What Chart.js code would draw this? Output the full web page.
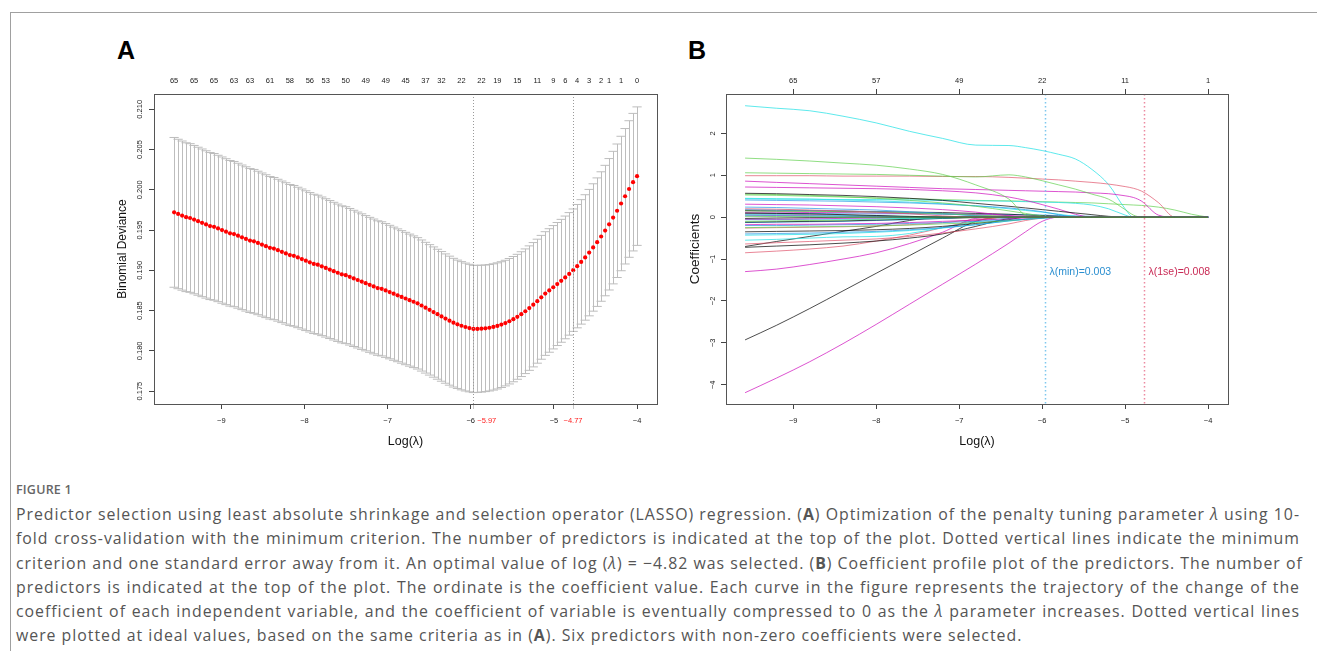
<!DOCTYPE html>
<html>
<head>
<meta charset="utf-8">
<script src="https://cdn.jsdelivr.net/npm/chart.js@4.4.1/dist/chart.umd.min.js"></script>
<style>
  body { margin: 0; background: #fff; width: 1317px; height: 651px; overflow: hidden; position: relative; font-family: "Liberation Sans", Arial, sans-serif; }
  .frame-top { position: absolute; left: 10px; top: 12px; right: 0; height: 1px; background: #a0a0a0; }
  .frame-left { position: absolute; left: 10px; top: 12px; bottom: 0; width: 1px; background: #a0a0a0; }
  .panel { position: absolute; top: 38px; font-size: 25px; line-height: 25px; font-weight: bold; color: #000; }
  .wrap { position: absolute; top: 20px; width: 575px; height: 440px; }
  .cap { position: absolute; left: 16px; width: 1284px; font-family: "Open Sans", Lato, sans-serif; color: #555; }
  .fig { top: 478px; font-size: 12.5px; line-height: 24px; font-weight: 600; letter-spacing: 0.2px; color: #666; }
  .ln { font-size: 16.5px; line-height: 24.3px; height: 24.3px; white-space: nowrap; text-align: justify; text-align-last: justify; }
  .ln.last { text-align-last: left; }
</style>
</head>
<body>
<div class="frame-top"></div>
<div class="frame-left"></div>
<div class="panel" style="left:117px">A</div>
<div class="panel" style="left:688px">B</div>
<div class="wrap" style="left:100px"><canvas id="chartA" width="575" height="440"></canvas></div>
<div class="wrap" style="left:672px"><canvas id="chartB" width="575" height="440"></canvas></div>

<div class="cap fig">FIGURE 1</div>
<div class="cap" style="top:502px">
  <div class="ln">Predictor selection using least absolute shrinkage and selection operator (LASSO) regression. (<b>A</b>) Optimization of the penalty tuning parameter <i>λ</i> using 10-</div>
  <div class="ln">fold cross-validation with the minimum criterion. The number of predictors is indicated at the top of the plot. Dotted vertical lines indicate the minimum</div>
  <div class="ln">criterion and one standard error away from it. An optimal value of log (<i>λ</i>) = −4.82 was selected. (<b>B</b>) Coefficient profile plot of the predictors. The number of</div>
  <div class="ln">predictors is indicated at the top of the plot. The ordinate is the coefficient value. Each curve in the figure represents the trajectory of the change of the</div>
  <div class="ln">coefficient of each independent variable, and the coefficient of variable is eventually compressed to 0 as the <i>λ</i> parameter increases. Dotted vertical lines</div>
  <div class="ln last">were plotted at ideal values, based on the same criteria as in (<b>A</b>). Six predictors with non-zero coefficients were selected.</div>
</div>

<script>
// ---------- panel A : 10-fold cross-validation ----------
const logLambda = [
  -9.568, -9.520, -9.472, -9.424, -9.376, -9.328, -9.280, -9.232, -9.184, -9.136,
  -9.088, -9.040, -8.992, -8.944, -8.896, -8.848, -8.800, -8.752, -8.704, -8.656,
  -8.608, -8.560, -8.512, -8.464, -8.416, -8.368, -8.320, -8.272, -8.224, -8.176,
  -8.128, -8.080, -8.032, -7.984, -7.936, -7.888, -7.840, -7.792, -7.744, -7.696,
  -7.648, -7.600, -7.552, -7.504, -7.456, -7.408, -7.360, -7.312, -7.264, -7.216,
  -7.168, -7.120, -7.072, -7.024, -6.976, -6.928, -6.880, -6.832, -6.784, -6.736,
  -6.688, -6.640, -6.592, -6.544, -6.496, -6.448, -6.400, -6.352, -6.304, -6.256,
  -6.208, -6.160, -6.112, -6.064, -6.016, -5.968, -5.920, -5.872, -5.824, -5.776,
  -5.728, -5.680, -5.632, -5.584, -5.536, -5.488, -5.440, -5.392, -5.344, -5.296,
  -5.248, -5.200, -5.152, -5.104, -5.056, -5.008, -4.960, -4.912, -4.864, -4.816,
  -4.768, -4.720, -4.672, -4.624, -4.576, -4.528, -4.480, -4.432, -4.384, -4.336,
  -4.288, -4.240, -4.192, -4.144, -4.096, -4.048, -4.000
];
const cvm = [
  0.1972, 0.1970, 0.1968, 0.1966, 0.1965, 0.1963, 0.1961, 0.1959, 0.1957, 0.1955,
  0.1954, 0.1952, 0.1950, 0.1948, 0.1946, 0.1945, 0.1943, 0.1941, 0.1939, 0.1937,
  0.1936, 0.1934, 0.1932, 0.1930, 0.1928, 0.1927, 0.1925, 0.1923, 0.1921, 0.1919,
  0.1918, 0.1916, 0.1914, 0.1912, 0.1910, 0.1908, 0.1907, 0.1905, 0.1903, 0.1901,
  0.1899, 0.1897, 0.1895, 0.1894, 0.1892, 0.1890, 0.1888, 0.1886, 0.1884, 0.1882,
  0.1880, 0.1878, 0.1877, 0.1875, 0.1873, 0.1871, 0.1869, 0.1867, 0.1865, 0.1863,
  0.1861, 0.18590, 0.18563, 0.18536, 0.18509, 0.18482, 0.18455, 0.18428, 0.18401, 0.18375,
  0.18350, 0.18330, 0.18312, 0.18296, 0.18283, 0.18272, 0.18273, 0.18276, 0.18280, 0.18287,
  0.18297, 0.18310, 0.18326, 0.18345, 0.18368, 0.18394, 0.18423, 0.18456, 0.18492, 0.18531,
  0.18573, 0.18617, 0.18665, 0.18712, 0.18750, 0.18790, 0.18830, 0.18870, 0.18912, 0.18956,
  0.19002, 0.19052, 0.19105, 0.19160, 0.19220, 0.19284, 0.19350, 0.19420, 0.19494, 0.19572,
  0.19655, 0.19740, 0.19830, 0.19920, 0.20010, 0.20095, 0.20170
];
const cvsd = [
  .00930, .00928, .00926, .00924, .00923, .00921, .00919, .00917, .00915, .00913,
  .00911, .00909, .00908, .00906, .00904, .00902, .00900, .00898, .00896, .00894,
  .00893, .00891, .00889, .00887, .00885, .00883, .00881, .00879, .00878, .00876,
  .00874, .00872, .00870, .00868, .00866, .00865, .00863, .00861, .00859, .00857,
  .00855, .00853, .00851, .00850, .00848, .00846, .00844, .00842, .00840, .00838,
  .00837, .00835, .00833, .00831, .00829, .00827, .00825, .00823, .00822, .00820,
  .00818, .00816, .00814, .00812, .00810, .00809, .00807, .00805, .00803, .00801,
  .00799, .00797, .00796, .00794, .00792, .00790, .00789, .00788, .00786, .00785,
  .00784, .00783, .00781, .00780, .00779, .00778, .00776, .00775, .00774, .00773,
  .00772, .00770, .00769, .00768, .00767, .00766, .00764, .00763, .00762, .00761,
  .00760, .00766, .00773, .00779, .00785, .00791, .00798, .00804, .00810, .00816,
  .00823, .00829, .00835, .00841, .00848, .00854, .00860
];
// number of non-zero predictors written on the top axis, at these lambda indices
const nzeroAt  = [0, 5, 10, 15, 19, 24, 29, 34, 38, 43, 48, 53, 58, 63, 67, 72, 77, 81, 86, 91, 95, 98, 101, 104, 107, 109, 112, 116];
const nzeroLab = [65, 65, 65, 63, 63, 61, 58, 56, 53, 50, 49, 49, 45, 37, 32, 22, 22, 19, 15, 11, 9, 6, 4, 3, 2, 1, 1, 0];
const xTicks = [-9, -8, -7, -6, -5, -4];
const yTicksA = [0.175, 0.180, 0.185, 0.190, 0.195, 0.200, 0.205, 0.210];
const lamMin = -5.97, lam1se = -4.77;

// ---------- panel B : coefficient paths ----------
const xB = [-9.58, -9.2, -8.8, -8.4, -8.0, -7.6, -7.2, -6.8, -6.4, -6.2, -6.0, -5.8, -5.6, -5.4, -5.2, -5.0, -4.9, -4.8, -4.6, -4.4, -4.2, -4.0];
const coefB = [
  [0.02, 0.015, 0.01, 0],
  [-0.03, -0.02, -0.01, -0.005, 0],
  [0.20, 0.19, 0.17, 0.15, 0.12, 0.08, 0.03, 0],
  [0.10, 0.09, 0.08, 0.06, 0.04, 0.02, 0],
  [0.06, 0.06, 0.05, 0.04, 0.03, 0.01, 0],
  [0.03, 0.03, 0.02, 0.02, 0.01, 0],
  [0.08, 0.07, 0.06, 0.05, 0.03, 0.01, 0],
  [0.05, 0.04, 0.04, 0.03, 0.02, 0.01, 0],
  [-0.05, -0.05, -0.04, -0.03, -0.02, 0],
  [-0.06, -0.06, -0.05, -0.05, -0.04, -0.03, -0.02, 0],
  [-0.10, -0.09, -0.08, -0.07, -0.05, -0.03, -0.01, 0],
  [-0.12, -0.11, -0.10, -0.09, -0.07, -0.05, -0.03, -0.01, 0],
  [-0.13, -0.12, -0.11, -0.10, -0.08, -0.06, -0.03, 0],
  [0.15, 0.14, 0.14, 0.13, 0.12, 0.10, 0.08, 0.05, 0.02, 0],
  [0.18, 0.17, 0.16, 0.15, 0.13, 0.11, 0.08, 0.04, 0],
  [0.24, 0.23, 0.21, 0.19, 0.17, 0.13, 0.09, 0.03, 0],
  [0.31, 0.30, 0.29, 0.27, 0.25, 0.22, 0.18, 0.12, 0.03, 0],
  [0.12, 0.12, 0.11, 0.11, 0.10, 0.09, 0.08, 0.06, 0.04, 0.02, 0],
  [-0.18, -0.17, -0.17, -0.16, -0.15, -0.13, -0.10, -0.07, -0.04, -0.02, 0],
  [-0.20, -0.20, -0.19, -0.18, -0.17, -0.15, -0.13, -0.10, -0.07, -0.05, -0.03, 0],
  [-0.25, -0.24, -0.23, -0.22, -0.21, -0.19, -0.16, -0.13, -0.08, -0.05, -0.02, 0],
  [-0.26, -0.25, -0.24, -0.23, -0.21, -0.18, -0.13, -0.06, 0],
  [-0.35, -0.34, -0.33, -0.32, -0.30, -0.27, -0.22, -0.15, -0.06, 0],
  [-0.40, -0.39, -0.38, -0.36, -0.34, -0.30, -0.25, -0.18, -0.09, -0.05, 0],
  [-0.43, -0.42, -0.41, -0.39, -0.36, -0.32, -0.26, -0.18, -0.09, -0.05, -0.02, 0],
  [-0.55, -0.53, -0.50, -0.47, -0.46, -0.39, -0.25, -0.11, -0.02, 0],
  [-0.64, -0.61, -0.58, -0.55, -0.52, -0.46, -0.38, -0.28, -0.16, -0.08, -0.02, 0],
  [-0.70, -0.58, -0.46, -0.34, -0.22, -0.08, 0],
  [-0.72, -0.69, -0.66, -0.62, -0.57, -0.50, -0.40, -0.22, -0.03, 0],
  [-0.85, -0.81, -0.76, -0.69, -0.57, -0.43, -0.25, -0.08, 0],
  [-1.30, -1.24, -1.13, -1.00, -0.85, -0.63, -0.36, -0.03, 0],
  [-2.93, -2.58, -2.18, -1.76, -1.34, -0.92, -0.50, -0.10, 0],
  [-4.19, -3.84, -3.45, -3.02, -2.56, -2.08, -1.60, -1.12, -0.62, -0.35, -0.10, 0],
  [1.41, 1.38, 1.34, 1.29, 1.24, 1.15, 1.02, 0.77, 0.43, 0.05, 0],
  [0.57, 0.56, 0.54, 0.52, 0.49, 0.45, 0.40, 0.33, 0.26, 0.22, 0.18, 0.14, 0.10, 0.06, 0.02, 0],
  [0.55, 0.54, 0.52, 0.49, 0.45, 0.40, 0.34, 0.26, 0.15, 0.09, 0.03, 0],
  [0.72, 0.71, 0.70, 0.69, 0.68, 0.66, 0.63, 0.58, 0.48, 0.40, 0.30, 0.19, 0.07, 0],
  [0.16, 0.15, 0.15, 0.14, 0.13, 0.12, 0.11, 0.09, 0.07, 0.05, 0.04, 0.02, 0],
  [0.41, 0.40, 0.39, 0.38, 0.36, 0.34, 0.31, 0.27, 0.22, 0.18, 0.13, 0.06, 0],
  [0.45, 0.44, 0.43, 0.41, 0.39, 0.36, 0.32, 0.27, 0.20, 0.16, 0.12, 0.07, 0.02, 0],
  [0.09, 0.09, 0.09, 0.08, 0.08, 0.08, 0.07, 0.07, 0.06, 0.06, 0.05, 0.04, 0.03, 0.02, 0.01, 0],
  [0.44, 0.43, 0.43, 0.42, 0.42, 0.41, 0.40, 0.39, 0.38, 0.37, 0.36, 0.35, 0.33, 0.29, 0.20, 0.05, 0],
  [1.06, 1.05, 1.04, 1.03, 1.02, 1.00, 0.98, 0.96, 1.01, 0.96, 0.87, 0.77, 0.67, 0.55, 0.43, 0.18, 0.05, 0],
  [0.86, 0.83, 0.80, 0.77, 0.74, 0.71, 0.68, 0.66, 0.64, 0.63, 0.62, 0.61, 0.60, 0.58, 0.56, 0.51, 0.47, 0.38, 0.05, 0],
  [0.99, 0.99, 0.99, 0.98, 0.98, 0.98, 0.97, 0.97, 0.95, 0.93, 0.91, 0.89, 0.86, 0.83, 0.79, 0.73, 0.69, 0.62, 0.35, 0],
  [2.66, 2.60, 2.54, 2.41, 2.25, 2.05, 1.88, 1.72, 1.71, 1.66, 1.59, 1.50, 1.39, 1.14, 0.78, 0.20, 0],
  [0.53, 0.52, 0.50, 0.48, 0.46, 0.44, 0.42, 0.40, 0.39, 0.38, 0.37, 0.36, 0.35, 0.34, 0.32, 0.30, 0.29, 0.28, 0.24, 0.17, 0.07, 0]
];
const colB = [
  'g', 'k', 'r', 'k', 'c', 'b', 'r', 'm', 'm', 'c', 'g', 'k', 'b', 'g', 'b', 'b',
  'm', 'm', 'm', 'b', 'g', 'r', 'k', 'b', 'c', 'c', 'r', 'k', 'k', 'r', 'm', 'k', 'm',
  'g', 'k', 'g', 'm', 'k', 'b', 'c', 'b', 'c', 'g', 'm', 'r', 'c', 'g'
];
const topTicksB = [-9, -8, -7, -6, -5, -4];
const topLabB = ['65', '57', '49', '22', '11', '1'];
const yTicksB = [-4, -3, -2, -1, 0, 1, 2];

// R palette
const pal = { k: 'rgba(0,0,0,0.7)', r: 'rgba(223,83,107,0.7)', g: 'rgba(97,208,79,0.7)',
              b: 'rgba(34,151,230,0.7)', c: 'rgba(40,226,229,0.75)', m: 'rgba(205,11,188,0.7)' };

const FAM = '"Liberation Sans", Arial, sans-serif';
const tickFont = { family: FAM, size: 7.5 };
const minus = v => String(v).replace('-', '\u2212');

// ---------- plugins ----------
const boxPlugin = {
  id: 'box',
  afterDraw(chart) {
    const a = chart.chartArea, ctx = chart.ctx;
    ctx.save();
    ctx.strokeStyle = '#555';
    ctx.lineWidth = 1;
    ctx.strokeRect(Math.round(a.left) + 0.5, Math.round(a.top) + 0.5, Math.round(a.right - a.left), Math.round(a.bottom - a.top));
    ctx.restore();
  }
};

const rotYPlugin = {
  id: 'rotY',
  afterDraw(chart, args, opts) {
    const s = chart.scales.y, ctx = chart.ctx;
    ctx.save();
    ctx.font = '7.5px ' + FAM;
    ctx.fillStyle = '#222';
    ctx.textAlign = 'center';
    ctx.textBaseline = 'middle';
    s.ticks.forEach(t => {
      ctx.save();
      ctx.translate(chart.chartArea.left - opts.offset, s.getPixelForValue(t.value));
      ctx.rotate(-Math.PI / 2);
      ctx.fillText(opts.fmt(t.value), 0, 0);
      ctx.restore();
    });
    ctx.restore();
  }
};

const vlinePlugin = {
  id: 'vlines',
  afterDatasetsDraw(chart, args, opts) {
    const ctx = chart.ctx, x = chart.scales.x, y = chart.scales.y, a = chart.chartArea;
    ctx.save();
    opts.lines.forEach(l => {
      const px = Math.round(x.getPixelForValue(l.at)) + 0.5;
      ctx.strokeStyle = l.color;
      ctx.lineWidth = l.width;
      ctx.setLineDash(l.dash);
      ctx.beginPath();
      ctx.moveTo(px, a.top);
      ctx.lineTo(px, a.bottom);
      ctx.stroke();
      if (l.text) {
        ctx.setLineDash([]);
        ctx.fillStyle = l.textColor;
        ctx.font = '10.5px ' + FAM;
        ctx.textAlign = 'left';
        ctx.textBaseline = 'middle';
        ctx.fillText(l.text, px + 4, y.getPixelForValue(l.textY));
      }
    });
    ctx.restore();
  }
};

// error bars of panel A, drawn under the red points
const errBarPlugin = {
  id: 'errbars',
  beforeDatasetsDraw(chart) {
    const ctx = chart.ctx, x = chart.scales.x, y = chart.scales.y;
    const half = (logLambda[logLambda.length - 1] - logLambda[0]) * 0.01;
    ctx.save();
    ctx.strokeStyle = '#bdbdbd';
    ctx.lineWidth = 1;
    ctx.beginPath();
    logLambda.forEach((l, i) => {
      const px = Math.round(x.getPixelForValue(l)) + 0.5;
      const up = y.getPixelForValue(cvm[i] + cvsd[i]);
      const lo = y.getPixelForValue(cvm[i] - cvsd[i]);
      const x0 = x.getPixelForValue(l - half), x1 = x.getPixelForValue(l + half);
      ctx.moveTo(px, up); ctx.lineTo(px, lo);
      ctx.moveTo(x0, up); ctx.lineTo(x1, up);
      ctx.moveTo(x0, lo); ctx.lineTo(x1, lo);
    });
    ctx.stroke();
    ctx.restore();
  }
};

// red lambda labels under the x axis of panel A
const redLabPlugin = {
  id: 'redlab',
  afterDraw(chart) {
    const ctx = chart.ctx, x = chart.scales.x, a = chart.chartArea;
    ctx.save();
    ctx.font = '7.5px ' + FAM;
    ctx.fillStyle = '#ff2020';
    ctx.textBaseline = 'middle';
    ctx.textAlign = 'left';
    ctx.fillText(minus(lamMin.toFixed(2)), x.getPixelForValue(lamMin) + 4, a.bottom + 16.7);
    ctx.textAlign = 'center';
    ctx.fillText(minus(lam1se.toFixed(2)), x.getPixelForValue(lam1se), a.bottom + 16.7);
    ctx.restore();
  }
};

Chart.register(boxPlugin, rotYPlugin, vlinePlugin);

function baseX(height) {
  return {
    type: 'linear', position: 'bottom', min: -9.81, max: -3.76,
    afterFit: s => { s.height = height; },
    border: { display: false },
    ticks: { autoSkip: false, maxRotation: 0, padding: 7, font: tickFont, color: '#222' },
    title: { display: true, text: 'Log(λ)', color: '#111', font: { family: FAM, size: 12.5 }, padding: { top: 0, bottom: 11 } }
  };
}

// ---------- chart A ----------
const xA = baseX(56);
xA.afterBuildTicks = s => { s.ticks = xTicks.concat([lamMin, lam1se]).sort((p, q) => p - q).map(v => ({ value: v })); };
xA.ticks.callback = v => (v === lamMin || v === lam1se) ? '' : minus(v);
xA.grid = { drawOnChartArea: false, drawTicks: true, tickLength: 5,
            color: c => (c.tick && (c.tick.value === lamMin || c.tick.value === lam1se)) ? '#c8c8c8' : '#444' };

new Chart(document.getElementById('chartA'), {
  type: 'scatter',
  data: {
    datasets: [{
      data: logLambda.map((l, i) => ({ x: l, y: cvm[i] })),
      pointRadius: 2.1, pointBackgroundColor: '#ff0000', pointBorderWidth: 0, showLine: false
    }]
  },
  options: {
    responsive: false, animation: false, devicePixelRatio: 1,
    layout: { padding: { left: 0, top: 40, right: 18, bottom: 0 } },
    plugins: {
      legend: { display: false }, tooltip: { enabled: false },
      rotY: { offset: 14, fmt: v => v.toFixed(3) },
      vlines: { lines: [
        { at: lamMin, color: '#9a9a9a', width: 1, dash: [1, 2] },
        { at: lam1se, color: '#9a9a9a', width: 1, dash: [1, 2] }
      ] }
    },
    scales: {
      x: xA,
      xTop: {
        type: 'linear', position: 'top', min: -9.81, max: -3.76,
        afterFit: s => { s.height = 34; },
        afterBuildTicks: s => { s.ticks = nzeroAt.map(i => ({ value: logLambda[i] })); },
        border: { display: false },
        grid: { display: false, drawTicks: false },
        ticks: { autoSkip: false, maxRotation: 0, padding: 8.5, font: tickFont, color: '#222',
                 callback: (v, i) => String(nzeroLab[i]) }
      },
      y: {
        min: 0.1734, max: 0.2119,
        afterFit: s => { s.width = 54; },
        afterBuildTicks: s => { s.ticks = yTicksA.map(v => ({ value: v })); },
        border: { display: false },
        grid: { drawOnChartArea: false, drawTicks: true, tickLength: 5, color: '#444' },
        ticks: { display: false },
        title: { display: true, text: 'Binomial Deviance', color: '#111', font: { family: FAM, size: 12 }, padding: { top: 15.5, bottom: 0 } }
      }
    }
  },
  plugins: [errBarPlugin, redLabPlugin]
});

// ---------- chart B ----------
const xBscale = baseX(56);
xBscale.afterBuildTicks = s => { s.ticks = xTicks.map(v => ({ value: v })); };
xBscale.ticks.callback = v => minus(v);
xBscale.grid = { drawOnChartArea: false, drawTicks: true, tickLength: 5, color: '#444' };

new Chart(document.getElementById('chartB'), {
  type: 'scatter',
  data: {
    datasets: coefB.map((vals, k) => ({
      data: xB.map((x, i) => ({ x: x, y: i < vals.length ? vals[i] : 0 })),
      showLine: true, pointRadius: 0, borderWidth: 1, borderColor: pal[colB[k]],
      cubicInterpolationMode: 'monotone'
    }))
  },
  options: {
    responsive: false, animation: false, devicePixelRatio: 1,
    layout: { padding: { left: 0, top: 40, right: 19, bottom: 0 } },
    plugins: {
      legend: { display: false }, tooltip: { enabled: false },
      rotY: { offset: 13, fmt: v => minus(v) },
      vlines: { lines: [
        { at: lamMin, color: '#7ec8ee', width: 1.5, dash: [1.5, 2.5], text: 'λ(min)=0.003', textColor: '#2b8fd0', textY: -1.31 },
        { at: lam1se, color: '#ec8aa0', width: 1.5, dash: [1.5, 2.5], text: 'λ(1se)=0.008', textColor: '#c92a55', textY: -1.31 }
      ] }
    },
    scales: {
      x: xBscale,
      xTop: {
        type: 'linear', position: 'top', min: -9.81, max: -3.76,
        afterFit: s => { s.height = 34; },
        afterBuildTicks: s => { s.ticks = topTicksB.map(v => ({ value: v })); },
        border: { display: false },
        grid: { drawOnChartArea: false, drawTicks: true, tickLength: 5, color: '#444' },
        ticks: { autoSkip: false, maxRotation: 0, padding: 3.5, font: tickFont, color: '#222',
                 callback: (v, i) => topLabB[i] }
      },
      y: {
        min: -4.46, max: 2.94,
        afterFit: s => { s.width = 54; },
        afterBuildTicks: s => { s.ticks = yTicksB.map(v => ({ value: v })); },
        border: { display: false },
        grid: { drawOnChartArea: false, drawTicks: true, tickLength: 5, color: '#444' },
        ticks: { display: false },
        title: { display: true, text: 'Coefficients', color: '#111', font: { family: FAM, size: 13.5 }, padding: { top: 15, bottom: 0 } }
      }
    }
  }
});

// caption: widen letters so the last (ragged) line ends where the original does,
// then let the other lines justify; shrink if any line would overflow
const capLines = Array.from(document.querySelectorAll('.ln'));
const natWidth = d => { const r = document.createRange(); r.selectNodeContents(d); return r.getBoundingClientRect().width; };
capLines.forEach(d => { d.style.textAlignLast = 'left'; });
const lastLine = capLines[capLines.length - 1];
const lastChars = lastLine.textContent.length;
const spacing = Math.max(0, (1042 - natWidth(lastLine)) / lastChars);
capLines.forEach(d => { d.style.letterSpacing = spacing + 'px'; });
let widest = 0;
capLines.forEach(d => { widest = Math.max(widest, natWidth(d)); });
if (widest > 1282) {
  const k = 1282 / widest;
  capLines.forEach(d => { d.style.fontSize = (16.5 * k) + 'px'; });
}
capLines.forEach(d => { d.style.textAlignLast = ''; });
lastLine.style.textAlignLast = 'left';
</script>
</body>
</html>
